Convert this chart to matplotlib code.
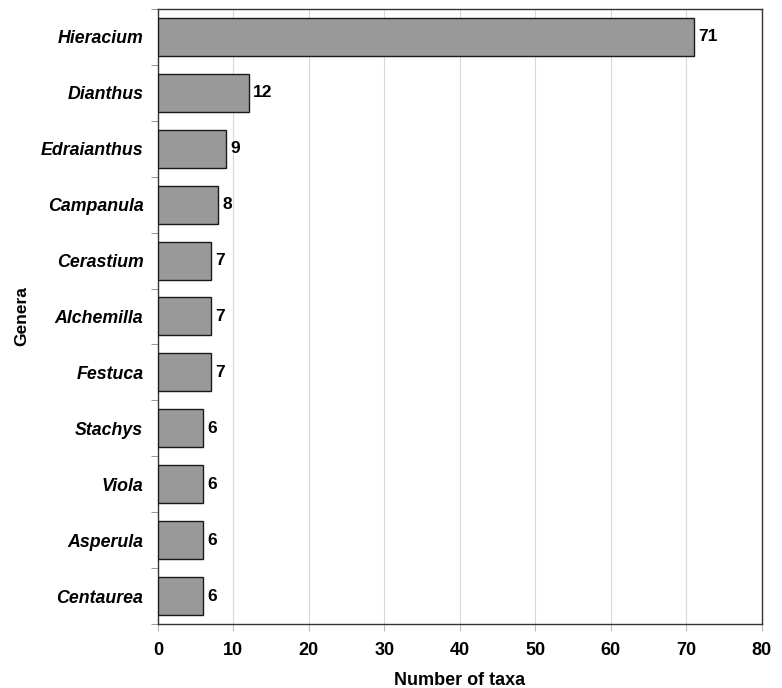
import numpy as np
import matplotlib
matplotlib.use("Agg")
import matplotlib.pyplot as plt

plt.rcParams["font.family"] = ["Liberation Sans", "DejaVu Sans"]

genera = ["Hieracium", "Dianthus", "Edraianthus", "Campanula", "Cerastium",
          "Alchemilla", "Festuca", "Stachys", "Viola", "Asperula", "Centaurea"]
taxa = [71, 12, 9, 8, 7, 7, 7, 6, 6, 6, 6]
x_ticks = [0, 10, 20, 30, 40, 50, 60, 70, 80]

fig = plt.figure(figsize=(7.82, 6.88), dpi=100)
ax = fig.add_axes([0.202, 0.093, 0.772, 0.894])

y = np.arange(len(genera))
ax.barh(y, taxa, height=0.68, color="#999999", edgecolor="#1a1a1a",
        linewidth=1.0, zorder=3)

for yi, v in zip(y, taxa):
    ax.text(v + 0.6, yi, str(v), va="center", ha="left",
            fontsize=12.5, fontweight="bold")

ax.set_xlim(0, 80)
ax.set_ylim(len(genera) - 0.5, -0.5)
ax.set_xticks(x_ticks)
ax.set_xticklabels([str(t) for t in x_ticks], fontsize=13, fontweight="bold")
ax.set_yticks(y)
ax.set_yticklabels(genera, fontsize=12.8, fontweight="bold", style="italic")
ax.set_yticks(np.arange(-0.5, len(genera), 1), minor=True)
ax.tick_params(axis="y", which="major", length=0, pad=10.5)
ax.tick_params(axis="y", which="minor", length=5, color="#888888")
ax.tick_params(axis="x", length=5, color="#bbbbbb", pad=8)

ax.grid(axis="x", color="#d8d8d8", linewidth=0.8, zorder=0)
for s in ax.spines.values():
    s.set_color("#333333")
    s.set_linewidth(1.0)

ax.set_xlabel("Number of taxa", fontsize=13, fontweight="bold", labelpad=9)
ax.set_ylabel("Genera", fontsize=12.5, fontweight="bold", labelpad=8)

fig.savefig("out.png", dpi=100)
